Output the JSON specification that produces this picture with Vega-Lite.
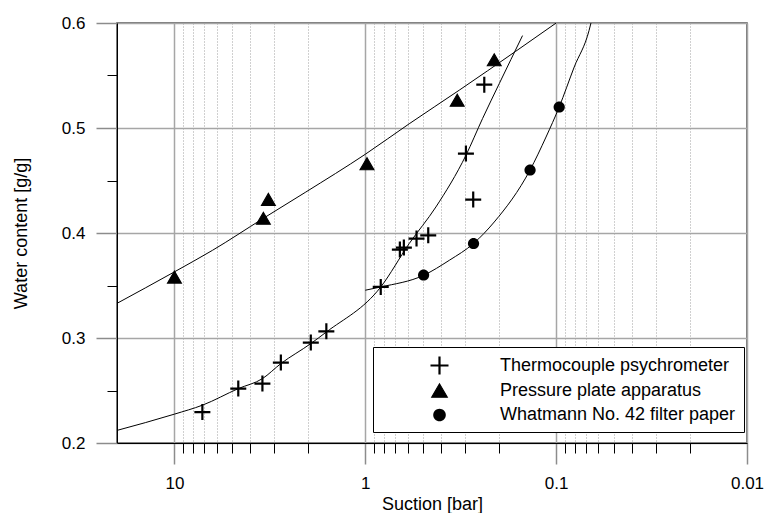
{
  "$schema": "https://vega.github.io/schema/vega-lite/v6.json",
  "width": 630,
  "height": 420,
  "autosize": {"type": "none"},
  "padding": {"left": 117, "top": 23, "right": 17, "bottom": 70},
  "background": "white",
  "config": {"view": {"stroke": "#4d4d4d", "strokeWidth": 1.5}, "font": "Liberation Sans"},
  "datasets": {
    "points": [
      {"series": "Thermocouple psychrometer", "suction": 7.14, "wc": 0.2295},
      {"series": "Thermocouple psychrometer", "suction": 4.63, "wc": 0.2518},
      {"series": "Thermocouple psychrometer", "suction": 3.46, "wc": 0.2566},
      {"series": "Thermocouple psychrometer", "suction": 2.77, "wc": 0.2766},
      {"series": "Thermocouple psychrometer", "suction": 1.93, "wc": 0.2956},
      {"series": "Thermocouple psychrometer", "suction": 1.6, "wc": 0.3064},
      {"series": "Thermocouple psychrometer", "suction": 0.83, "wc": 0.3486},
      {"series": "Thermocouple psychrometer", "suction": 0.659, "wc": 0.3842},
      {"series": "Thermocouple psychrometer", "suction": 0.628, "wc": 0.3861},
      {"series": "Thermocouple psychrometer", "suction": 0.539, "wc": 0.3947},
      {"series": "Thermocouple psychrometer", "suction": 0.468, "wc": 0.3978},
      {"series": "Thermocouple psychrometer", "suction": 0.297, "wc": 0.4756},
      {"series": "Thermocouple psychrometer", "suction": 0.272, "wc": 0.4318},
      {"series": "Thermocouple psychrometer", "suction": 0.238, "wc": 0.5413},
      {"series": "Pressure plate apparatus", "suction": 10, "wc": 0.358},
      {"series": "Pressure plate apparatus", "suction": 3.42, "wc": 0.414},
      {"series": "Pressure plate apparatus", "suction": 3.22, "wc": 0.432},
      {"series": "Pressure plate apparatus", "suction": 0.98, "wc": 0.466},
      {"series": "Pressure plate apparatus", "suction": 0.33, "wc": 0.5265},
      {"series": "Pressure plate apparatus", "suction": 0.211, "wc": 0.565},
      {"series": "Whatmann No. 42 filter paper", "suction": 0.495, "wc": 0.36},
      {"series": "Whatmann No. 42 filter paper", "suction": 0.271, "wc": 0.39},
      {"series": "Whatmann No. 42 filter paper", "suction": 0.137, "wc": 0.46},
      {"series": "Whatmann No. 42 filter paper", "suction": 0.0964, "wc": 0.52}
    ],
    "curves": [
      {"curve": "pressure", "suction": 20, "wc": 0.333},
      {"curve": "pressure", "suction": 10, "wc": 0.363},
      {"curve": "pressure", "suction": 6.32, "wc": 0.3835},
      {"curve": "pressure", "suction": 3.42, "wc": 0.414},
      {"curve": "pressure", "suction": 2.05, "wc": 0.439},
      {"curve": "pressure", "suction": 1.0, "wc": 0.475},
      {"curve": "pressure", "suction": 0.589, "wc": 0.504},
      {"curve": "pressure", "suction": 0.322, "wc": 0.536},
      {"curve": "pressure", "suction": 0.163, "wc": 0.573},
      {"curve": "pressure", "suction": 0.1, "wc": 0.6},
      {"curve": "thermo", "suction": 20, "wc": 0.212},
      {"curve": "thermo", "suction": 10, "wc": 0.2275},
      {"curve": "thermo", "suction": 7.14, "wc": 0.236},
      {"curve": "thermo", "suction": 4.63, "wc": 0.2518},
      {"curve": "thermo", "suction": 3.46, "wc": 0.2613},
      {"curve": "thermo", "suction": 2.77, "wc": 0.2756},
      {"curve": "thermo", "suction": 1.93, "wc": 0.2947},
      {"curve": "thermo", "suction": 1.6, "wc": 0.3057},
      {"curve": "thermo", "suction": 0.83, "wc": 0.3486},
      {"curve": "thermo", "suction": 0.589, "wc": 0.3899},
      {"curve": "thermo", "suction": 0.4266, "wc": 0.4248},
      {"curve": "thermo", "suction": 0.297, "wc": 0.474},
      {"curve": "thermo", "suction": 0.243, "wc": 0.509},
      {"curve": "thermo", "suction": 0.1986, "wc": 0.5423},
      {"curve": "thermo", "suction": 0.15, "wc": 0.588},
      {"curve": "filter", "suction": 1.0, "wc": 0.3455},
      {"curve": "filter", "suction": 0.83, "wc": 0.3486},
      {"curve": "filter", "suction": 0.495, "wc": 0.3597},
      {"curve": "filter", "suction": 0.363, "wc": 0.374},
      {"curve": "filter", "suction": 0.271, "wc": 0.39},
      {"curve": "filter", "suction": 0.211, "wc": 0.4105},
      {"curve": "filter", "suction": 0.137, "wc": 0.46},
      {"curve": "filter", "suction": 0.113, "wc": 0.4914},
      {"curve": "filter", "suction": 0.0964, "wc": 0.52},
      {"curve": "filter", "suction": 0.0804, "wc": 0.5581},
      {"curve": "filter", "suction": 0.0672, "wc": 0.593},
      {"curve": "filter", "suction": 0.0657, "wc": 0.6}
    ]
  },
  "encoding": {
    "x": {
      "field": "suction",
      "type": "quantitative",
      "scale": {"type": "log", "domain": [0.01, 20], "reverse": true, "nice": false},
      "axis": {
        "values": [10, 9, 8, 7, 6, 5, 4, 3, 2, 1, 0.9, 0.8, 0.7, 0.6, 0.5, 0.4, 0.3, 0.2, 0.1, 0.09, 0.08, 0.07, 0.06, 0.05, 0.04, 0.03, 0.02, 0.01],
        "title": "Suction [bar]",
        "labelExpr": "datum.value==10?'10':datum.value==1?'1':datum.value==0.1?'0.1':datum.value==0.01?'0.01':''",
        "grid": true,
        "gridColor": {"condition": {"test": "datum.value==10||datum.value==1||datum.value==0.1||datum.value==0.01", "value": "#a6a6a6"}, "value": "#a0a0a0"},
        "gridDash": {"condition": {"test": "datum.value==10||datum.value==1||datum.value==0.1||datum.value==0.01", "value": []}, "value": [1, 2]},
        "gridWidth": {"condition": {"test": "datum.value==10||datum.value==1||datum.value==0.1||datum.value==0.01", "value": 1.5}, "value": 1},
        "tickSize": {"condition": {"test": "datum.value==10||datum.value==1||datum.value==0.1||datum.value==0.01", "value": 21}, "value": 10},
        "tickColor": {"condition": {"test": "datum.value==10||datum.value==1||datum.value==0.1||datum.value==0.01", "value": "#8c8c8c"}, "value": "black"},
        "tickWidth": {"condition": {"test": "datum.value==10||datum.value==1||datum.value==0.1||datum.value==0.01", "value": 1.5}, "value": 1},
        "domainColor": "black",
        "domainWidth": 1,
        "labelFontSize": 17,
        "labelColor": "black",
        "labelPadding": 11,
        "labelFlush": false,
        "labelOverlap": false,
        "labelBound": false,
        "titleFontSize": 18,
        "titleFontWeight": "normal",
        "titleColor": "black",
        "titleBaseline": "alphabetic",
        "titleY": 66
      }
    },
    "y": {
      "field": "wc",
      "type": "quantitative",
      "scale": {"domain": [0.2, 0.6], "nice": false, "zero": false},
      "axis": {
        "values": [0.2, 0.25, 0.3, 0.35, 0.4, 0.45, 0.5, 0.55, 0.6],
        "title": "Water content [g/g]",
        "labelExpr": "abs(datum.value*10-round(datum.value*10))<0.01 ? format(datum.value, '.1f') : ''",
        "grid": true,
        "gridColor": "#a6a6a6",
        "gridWidth": 1.5,
        "gridOpacity": {"condition": {"test": "abs(datum.value*10-round(datum.value*10))<0.01", "value": 1}, "value": 0},
        "tickSize": {"condition": {"test": "abs(datum.value*10-round(datum.value*10))<0.01", "value": 21}, "value": 10},
        "tickColor": {"condition": {"test": "abs(datum.value*10-round(datum.value*10))<0.01", "value": "#8c8c8c"}, "value": "black"},
        "tickWidth": {"condition": {"test": "abs(datum.value*10-round(datum.value*10))<0.01", "value": 1.5}, "value": 1},
        "domainColor": "black",
        "domainWidth": 1,
        "labelFontSize": 17,
        "labelColor": "black",
        "labelPadding": 11,
        "labelOverlap": false,
        "labelBound": false,
        "titleFontSize": 18,
        "titleFontWeight": "normal",
        "titleColor": "black",
        "titleBaseline": "alphabetic",
        "titleX": -91
      }
    }
  },
  "layer": [
    {
      "data": {"name": "curves"},
      "mark": {"type": "line", "color": "black", "strokeWidth": 1, "interpolate": "monotone", "clip": true},
      "encoding": {
        "detail": {"field": "curve"},
        "order": {"field": "suction", "sort": "descending"}
      }
    },
    {
      "data": {"name": "points"},
      "mark": {"type": "point", "opacity": 1, "size": 256},
      "encoding": {
        "shape": {
          "field": "series",
          "type": "nominal",
          "scale": {
            "domain": ["Thermocouple psychrometer", "Pressure plate apparatus", "Whatmann No. 42 filter paper"],
            "range": ["M-1,0H1M0,-1V1", "M0,-0.75L-0.87,0.75L0.87,0.75Z", "M-0.7,0A0.7,0.7,0,1,0,0.7,0A0.7,0.7,0,1,0,-0.7,0Z"]
          },
          "legend": {"orient": "none", "legendX": 256, "legendY": 324, "title": null, "padding": 8, "strokeColor": "black", "fillColor": "white", "symbolOffset": 48, "labelOffset": 50, "labelFontSize": 18, "labelColor": "black", "rowPadding": 1.5, "gridAlign": "all", "symbolSize": 324, "labelLimit": 400}
        },
        "fill": {
          "field": "series",
          "type": "nominal",
          "scale": {
            "domain": ["Thermocouple psychrometer", "Pressure plate apparatus", "Whatmann No. 42 filter paper"],
            "range": ["transparent", "black", "black"]
          },
          "legend": {"orient": "none", "legendX": 256, "legendY": 324, "title": null, "padding": 8, "strokeColor": "black", "fillColor": "white", "symbolOffset": 48, "labelOffset": 50, "labelFontSize": 18, "labelColor": "black", "rowPadding": 1.5, "gridAlign": "all", "symbolSize": 324, "labelLimit": 400}
        },
        "stroke": {
          "field": "series",
          "type": "nominal",
          "scale": {
            "domain": ["Thermocouple psychrometer", "Pressure plate apparatus", "Whatmann No. 42 filter paper"],
            "range": ["black", "black", "black"]
          },
          "legend": {"orient": "none", "legendX": 256, "legendY": 324, "title": null, "padding": 8, "strokeColor": "black", "fillColor": "white", "symbolOffset": 48, "labelOffset": 50, "labelFontSize": 18, "labelColor": "black", "rowPadding": 1.5, "gridAlign": "all", "symbolSize": 324, "labelLimit": 400}
        },
        "strokeWidth": {
          "field": "series",
          "type": "nominal",
          "scale": {
            "domain": ["Thermocouple psychrometer", "Pressure plate apparatus", "Whatmann No. 42 filter paper"],
            "range": [2.2, 0, 0]
          },
          "legend": {"orient": "none", "legendX": 256, "legendY": 324, "title": null, "padding": 8, "strokeColor": "black", "fillColor": "white", "symbolOffset": 48, "labelOffset": 50, "labelFontSize": 18, "labelColor": "black", "rowPadding": 1.5, "gridAlign": "all", "symbolSize": 324, "labelLimit": 400}
        }
      }
    }
  ]
}
